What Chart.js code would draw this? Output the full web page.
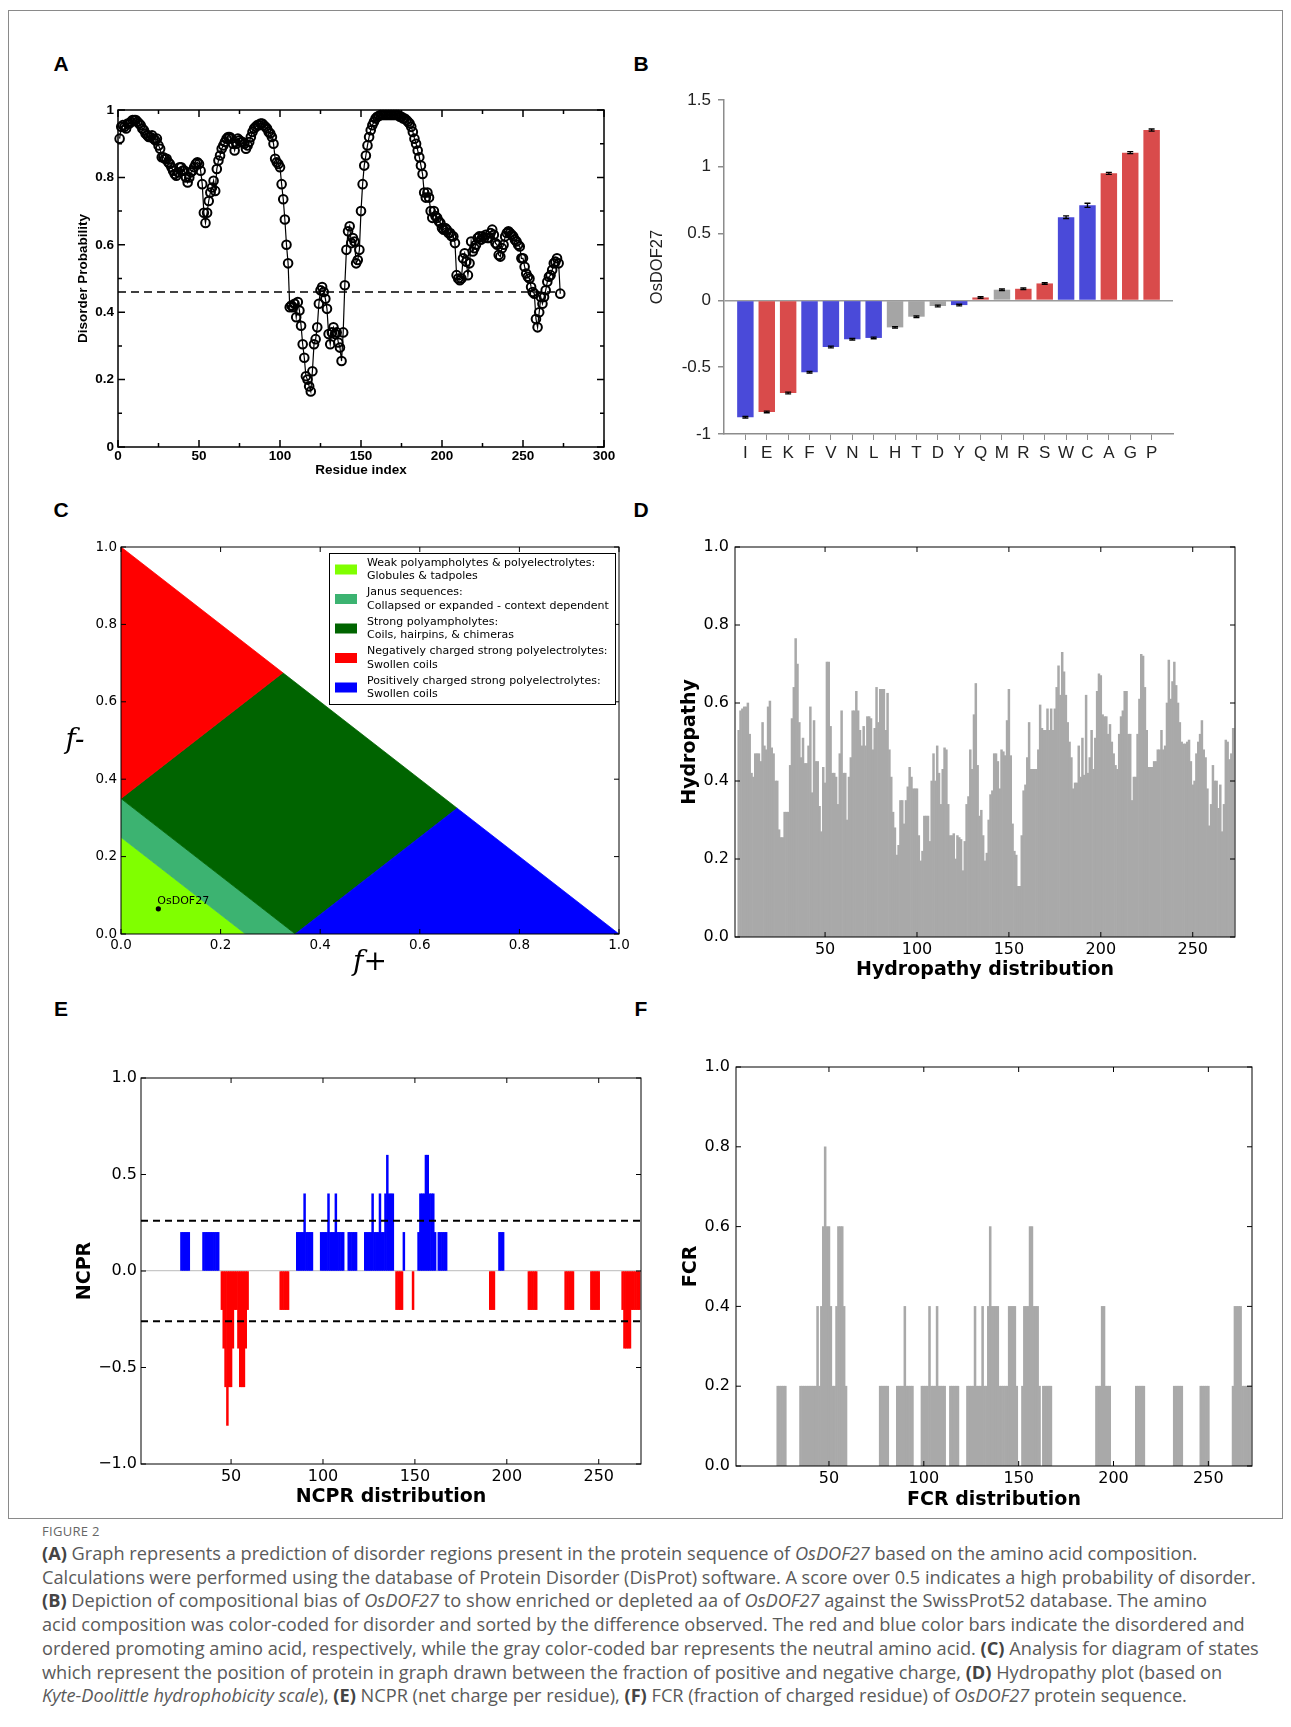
<!DOCTYPE html>
<html>
<head>
<meta charset="utf-8">
<title>OsDOF27 - Figure 2</title>
<script src="https://cdn.jsdelivr.net/npm/chart.js@4.4.1/dist/chart.umd.min.js"></script>
<style>
  html, body { margin: 0; padding: 0; background: #fff; }
  body { position: relative; width: 1291px; height: 1727px; overflow: hidden; }
  .box { position: absolute; left: 8px; top: 10px; width: 1273px; height: 1507px; border: 1px solid #8a8a8a; }
  canvas { position: absolute; }
  .tag { position: absolute; font: bold 21px "Liberation Sans", Arial, sans-serif; color: #000; line-height: 1; transform: translate(-50%, -50%); }
  .fig { position: absolute; left: 42px; top: 1522px; font: 13px/18px "Open Sans", sans-serif; color: #666; letter-spacing: 0.3px; }
  .cap { position: absolute; left: 42px; top: 1542px; font: 18.2px/23.7px "Open Sans", sans-serif; color: #5a5a5a; white-space: nowrap; }
  .cap b { color: #444; }
</style>
</head>
<body>
<div class="box"></div>

<div class="tag" style="left:61px;top:63px">A</div>
<div class="tag" style="left:641px;top:63px">B</div>
<div class="tag" style="left:61px;top:509px">C</div>
<div class="tag" style="left:641px;top:509px">D</div>
<div class="tag" style="left:61px;top:1008px">E</div>
<div class="tag" style="left:641px;top:1008px">F</div>

<canvas id="chartA" width="600" height="400" style="left:40px;top:90px"></canvas>
<canvas id="chartB" width="560" height="400" style="left:630px;top:80px"></canvas>
<canvas id="chartC" width="600" height="470" style="left:40px;top:520px"></canvas>
<canvas id="chartD" width="610" height="470" style="left:650px;top:520px"></canvas>
<canvas id="chartE" width="620" height="470" style="left:40px;top:1050px"></canvas>
<canvas id="chartF" width="620" height="480" style="left:650px;top:1040px"></canvas>

<div class="fig">FIGURE 2</div>
<div class="cap">
<div><b>(A)</b> Graph represents a prediction of disorder regions present in the protein sequence of <i>OsDOF27</i> based on the amino acid composition.</div>
<div>Calculations were performed using the database of Protein Disorder (DisProt) software. A score over 0.5 indicates a high probability of disorder.</div>
<div><b>(B)</b> Depiction of compositional bias of <i>OsDOF27</i> to show enriched or depleted aa of <i>OsDOF27</i> against the SwissProt52 database. The amino</div>
<div>acid composition was color-coded for disorder and sorted by the difference observed. The red and blue color bars indicate the disordered and</div>
<div>ordered promoting amino acid, respectively, while the gray color-coded bar represents the neutral amino acid. <b>(C)</b> Analysis for diagram of states</div>
<div>which represent the position of protein in graph drawn between the fraction of positive and negative charge, <b>(D)</b> Hydropathy plot (based on</div>
<div><i>Kyte-Doolittle hydrophobicity scale</i>), <b>(E)</b> NCPR (net charge per residue), <b>(F)</b> FCR (fraction of charged residue) of <i>OsDOF27</i> protein sequence.</div>
</div>

<script>
// ---------- data ----------
const residueCount = 273;

// A: disorder probability per residue (1..273)
const disorderProb = [
  0.915, 0.95, 0.955, 0.95, 0.945, 0.96, 0.96, 0.965, 0.97, 0.97,
  0.97, 0.965, 0.96, 0.955, 0.945, 0.94, 0.93, 0.925, 0.92, 0.92,
  0.925, 0.915, 0.91, 0.915, 0.895, 0.885, 0.86, 0.86, 0.855, 0.855,
  0.845, 0.84, 0.83, 0.82, 0.81, 0.805, 0.815, 0.83, 0.83, 0.82,
  0.82, 0.80, 0.785, 0.80, 0.815, 0.82, 0.83, 0.84, 0.845, 0.84,
  0.82, 0.78, 0.695, 0.665, 0.695, 0.73, 0.755, 0.77, 0.79, 0.76,
  0.825, 0.85, 0.865, 0.885, 0.895, 0.905, 0.915, 0.92, 0.92, 0.915,
  0.90, 0.88, 0.90, 0.915, 0.91, 0.905, 0.905, 0.90, 0.885, 0.895,
  0.905, 0.92, 0.935, 0.945, 0.95, 0.955, 0.955, 0.96, 0.96, 0.955,
  0.95, 0.945, 0.935, 0.93, 0.92, 0.90, 0.855, 0.845, 0.84, 0.83,
  0.78, 0.735, 0.675, 0.60, 0.545, 0.415, 0.42, 0.415, 0.425, 0.385,
  0.43, 0.405, 0.36, 0.305, 0.265, 0.21, 0.20, 0.18, 0.165, 0.225,
  0.305, 0.32, 0.355, 0.425, 0.465, 0.475, 0.46, 0.44, 0.41, 0.335,
  0.305, 0.34, 0.355, 0.335, 0.34, 0.31, 0.295, 0.255, 0.34, 0.48,
  0.585, 0.64, 0.655, 0.605, 0.62, 0.61, 0.545, 0.555, 0.585, 0.70,
  0.78, 0.835, 0.865, 0.895, 0.92, 0.94, 0.955, 0.965, 0.975, 0.98,
  0.982, 0.985, 0.985, 0.985, 0.985, 0.985, 0.985, 0.985, 0.985, 0.985,
  0.985, 0.985, 0.985, 0.98, 0.98, 0.975, 0.975, 0.97, 0.965, 0.96,
  0.95, 0.935, 0.915, 0.90, 0.88, 0.86, 0.835, 0.81, 0.755, 0.74,
  0.755, 0.74, 0.70, 0.68, 0.70, 0.685, 0.68, 0.67, 0.665, 0.65,
  0.645, 0.65, 0.645, 0.635, 0.635, 0.625, 0.625, 0.605, 0.51, 0.50,
  0.495, 0.50, 0.56, 0.575, 0.55, 0.51, 0.545, 0.61, 0.58, 0.59,
  0.60, 0.62, 0.625, 0.615, 0.625, 0.62, 0.63, 0.62, 0.62, 0.635,
  0.645, 0.63, 0.605, 0.60, 0.57, 0.565, 0.59, 0.60, 0.625, 0.635,
  0.64, 0.635, 0.63, 0.625, 0.615, 0.61, 0.60, 0.595, 0.56, 0.56,
  0.535, 0.515, 0.505, 0.50, 0.475, 0.46, 0.455, 0.38, 0.355, 0.40,
  0.445, 0.425, 0.445, 0.465, 0.49, 0.505, 0.51, 0.525, 0.545, 0.55,
  0.56, 0.545, 0.455
];
const disorderCut = 0.46;
const disorderXTicks = [0, 50, 100, 150, 200, 250, 300];
const disorderYTicks = [0, 0.2, 0.4, 0.6, 0.8, 1];

// B: compositional bias vs SwissProt52
const aminoAcids = ['I', 'E', 'K', 'F', 'V', 'N', 'L', 'H', 'T', 'D', 'Y', 'Q', 'M', 'R', 'S', 'W', 'C', 'A', 'G', 'P'];
const compBias = [-0.875, -0.835, -0.693, -0.538, -0.349, -0.291, -0.281, -0.202, -0.122, -0.042, -0.035, 0.022, 0.08, 0.087, 0.127, 0.623, 0.712, 0.951, 1.106, 1.275];
const compErr = [0.006, 0.006, 0.006, 0.006, 0.006, 0.006, 0.006, 0.006, 0.006, 0.006, 0.006, 0.006, 0.006, 0.006, 0.006, 0.01, 0.015, 0.008, 0.008, 0.008];
const compGroup = ['order', 'disorder', 'disorder', 'order', 'order', 'order', 'order', 'neutral', 'neutral', 'neutral', 'order', 'disorder', 'neutral', 'disorder', 'disorder', 'order', 'order', 'disorder', 'disorder', 'disorder'];
const biasTicks = [-1, -0.5, 0, 0.5, 1, 1.5];

// C: diagram of states (f+, f-)
const regionLabels = [
  ['Weak polyampholytes & polyelectrolytes:', 'Globules & tadpoles'],
  ['Janus sequences:', 'Collapsed or expanded - context dependent'],
  ['Strong polyampholytes:', 'Coils, hairpins, & chimeras'],
  ['Negatively charged strong polyelectrolytes:', 'Swollen coils'],
  ['Positively charged strong polyelectrolytes:', 'Swollen coils']
];
const regionPolys = [
  [[0, 0], [0, 0.25], [0.25, 0]],
  [[0, 0.25], [0, 0.35], [0.35, 0], [0.25, 0]],
  [[0, 0.35], [0.325, 0.675], [0.675, 0.325], [0.35, 0]],
  [[0, 0.35], [0, 1], [0.325, 0.675]],
  [[0.35, 0], [0.675, 0.325], [1, 0]]
];
const proteinName = 'OsDOF27';
const proteinFplus = 0.075;
const proteinFminus = 0.065;
const fracTicks = [0, 0.2, 0.4, 0.6, 0.8, 1];

// D: hydropathy, residues 3..272
const hydroStart = 3;
const hydroValues = [
  0.53, 0.58, 0.585, 0.59, 0.59, 0.60, 0.52, 0.42, 0.41, 0.47,
  0.47, 0.47, 0.45, 0.55, 0.49, 0.48, 0.59, 0.605, 0.485, 0.47,
  0.40, 0.40, 0.275, 0.255, 0.255, 0.32, 0.32, 0.32, 0.44, 0.56,
  0.64, 0.765, 0.70, 0.55, 0.46, 0.51, 0.445, 0.445, 0.49, 0.59,
  0.37, 0.555, 0.45, 0.45, 0.335, 0.27, 0.435, 0.395, 0.705, 0.705,
  0.54, 0.42, 0.42, 0.41, 0.34, 0.47, 0.58, 0.42, 0.42, 0.30,
  0.41, 0.46, 0.58, 0.58, 0.63, 0.58, 0.53, 0.49, 0.54, 0.49,
  0.565, 0.565, 0.56, 0.48, 0.535, 0.64, 0.55, 0.635, 0.635, 0.635,
  0.53, 0.625, 0.48, 0.41, 0.32, 0.28, 0.21, 0.235, 0.35, 0.35,
  0.29, 0.35, 0.385, 0.435, 0.41, 0.38, 0.38, 0.38, 0.26, 0.195,
  0.22, 0.31, 0.31, 0.31, 0.245, 0.40, 0.47, 0.40, 0.49, 0.42, 0.34,
  0.43, 0.485, 0.48, 0.34, 0.26, 0.26, 0.265, 0.20, 0.26, 0.255, 0.25,
  0.17, 0.245, 0.34, 0.36, 0.48, 0.43, 0.57, 0.65, 0.44, 0.31,
  0.325, 0.26, 0.195, 0.215, 0.30, 0.365, 0.375, 0.47, 0.47, 0.45, 0.38,
  0.48, 0.475, 0.465, 0.555, 0.635, 0.465, 0.29, 0.22, 0.21, 0.13,
  0.13, 0.26, 0.375, 0.39, 0.46, 0.55, 0.43, 0.43, 0.43, 0.43, 0.48,
  0.595, 0.535, 0.53, 0.53, 0.585, 0.53, 0.585, 0.53, 0.585, 0.64,
  0.695, 0.62, 0.73, 0.68, 0.62, 0.55, 0.50, 0.46, 0.38, 0.395, 0.395,
  0.49, 0.41, 0.51, 0.415, 0.62, 0.42, 0.46, 0.53, 0.43, 0.51,
  0.63, 0.675, 0.67, 0.57, 0.565, 0.565, 0.52, 0.545, 0.50, 0.47, 0.44,
  0.43, 0.52, 0.565, 0.58, 0.63, 0.63, 0.52, 0.52, 0.35, 0.41, 0.41,
  0.52, 0.61, 0.725, 0.72, 0.64, 0.53, 0.435, 0.435, 0.435, 0.45, 0.45,
  0.48, 0.48, 0.53, 0.48, 0.49, 0.60, 0.71, 0.61, 0.655, 0.705,
  0.645, 0.60, 0.55, 0.50, 0.495, 0.495, 0.50, 0.505, 0.45, 0.39, 0.40,
  0.47, 0.50, 0.52, 0.555, 0.48, 0.46, 0.38, 0.285, 0.34, 0.44,
  0.40, 0.40, 0.33, 0.39, 0.27, 0.34, 0.505, 0.50, 0.455, 0.47,
  0.535
];
const unitTicks = [0, 0.2, 0.4, 0.6, 0.8, 1];
const residueTicks = [50, 100, 150, 200, 250];

// E: net charge per residue (1..273)
const ncprValues = [
  0, 0, 0, 0, 0, 0, 0, 0, 0, 0,
  0, 0, 0, 0, 0, 0, 0, 0, 0, 0,
  0, 0, 0.2, 0.2, 0.2, 0.2, 0.2, 0, 0, 0,
  0, 0, 0, 0, 0.2, 0.2, 0.2, 0.2, 0.2, 0.2,
  0.2, 0.2, 0.2, 0, -0.2, -0.4, -0.6, -0.8, -0.6, -0.6,
  -0.4, -0.2, -0.2, -0.4, -0.6, -0.6, -0.6, -0.4, -0.2, 0,
  0, 0, 0, 0, 0, 0, 0, 0, 0, 0,
  0, 0, 0, 0, 0, 0, -0.2, -0.2, -0.2, -0.2,
  -0.2, 0, 0, 0, 0, 0.2, 0.2, 0.2, 0.2, 0.4,
  0.2, 0.2, 0.2, 0.2, 0, 0, 0, 0, 0.2, 0.2,
  0.2, 0.2, 0.4, 0.2, 0.2, 0.2, 0.4, 0.2, 0.2, 0.2,
  0.2, 0, 0, 0.2, 0.2, 0.2, 0.2, 0.2, 0, 0,
  0, 0, 0.2, 0.2, 0.2, 0.2, 0.4, 0.2, 0.2, 0.2,
  0.4, 0.2, 0.2, 0.4, 0.6, 0.4, 0.4, 0.4, 0, -0.2,
  -0.2, -0.2, -0.2, 0.2, 0, 0, 0, 0, -0.2, 0,
  0, 0.2, 0.4, 0.4, 0.4, 0.6, 0.6, 0.4, 0.4, 0.4,
  0.2, 0, 0.2, 0.2, 0.2, 0.2, 0.2, 0, 0, 0,
  0, 0, 0, 0, 0, 0, 0, 0, 0, 0,
  0, 0, 0, 0, 0, 0, 0, 0, 0, 0,
  -0.2, -0.2, -0.2, 0, 0, 0.2, 0.2, 0.2, 0, 0,
  0, 0, 0, 0, 0, 0, 0, 0, 0, 0,
  0, -0.2, -0.2, -0.2, -0.2, -0.2, 0, 0, 0, 0,
  0, 0, 0, 0, 0, 0, 0, 0, 0, 0,
  0, -0.2, -0.2, -0.2, -0.2, -0.2, 0, 0, 0, 0,
  0, 0, 0, 0, 0, -0.2, -0.2, -0.2, -0.2, -0.2,
  0, 0, 0, 0, 0, 0, 0, 0, 0, 0,
  0, 0, -0.2, -0.4, -0.4, -0.4, -0.4, -0.2, -0.2, -0.2,
  -0.2, -0.2, 0
];
const ncprCut = 0.26;
const ncprTicks = [-1, -0.5, 0, 0.5, 1];

// F: fraction of charged residues (1..273)
const fcrValues = [
  0, 0, 0, 0, 0, 0, 0, 0, 0, 0,
  0, 0, 0, 0, 0, 0, 0, 0, 0, 0,
  0, 0, 0.2, 0.2, 0.2, 0.2, 0.2, 0, 0, 0,
  0, 0, 0, 0, 0.2, 0.2, 0.2, 0.2, 0.2, 0.2,
  0.2, 0.2, 0.2, 0.4, 0.2, 0.4, 0.6, 0.8, 0.6, 0.6,
  0.4, 0.2, 0.2, 0.4, 0.6, 0.6, 0.6, 0.4, 0.2, 0,
  0, 0, 0, 0, 0, 0, 0, 0, 0, 0,
  0, 0, 0, 0, 0, 0, 0.2, 0.2, 0.2, 0.2,
  0.2, 0, 0, 0, 0, 0.2, 0.2, 0.2, 0.2, 0.4,
  0.2, 0.2, 0.2, 0.2, 0, 0, 0, 0, 0.2, 0.2,
  0.2, 0.2, 0.4, 0.2, 0.2, 0.2, 0.4, 0.2, 0.2, 0.2,
  0.2, 0, 0, 0.2, 0.2, 0.2, 0.2, 0.2, 0, 0,
  0, 0, 0.2, 0.2, 0.2, 0.2, 0.4, 0.2, 0.2, 0.2,
  0.4, 0.2, 0.2, 0.4, 0.6, 0.4, 0.4, 0.4, 0.4, 0.2,
  0.2, 0.2, 0.2, 0.2, 0.4, 0.4, 0.4, 0.4, 0.2, 0,
  0, 0.2, 0.4, 0.4, 0.4, 0.6, 0.6, 0.4, 0.4, 0.4,
  0.2, 0, 0.2, 0.2, 0.2, 0.2, 0.2, 0, 0, 0,
  0, 0, 0, 0, 0, 0, 0, 0, 0, 0,
  0, 0, 0, 0, 0, 0, 0, 0, 0, 0,
  0.2, 0.2, 0.2, 0.4, 0.4, 0.2, 0.2, 0.2, 0, 0,
  0, 0, 0, 0, 0, 0, 0, 0, 0, 0,
  0, 0.2, 0.2, 0.2, 0.2, 0.2, 0, 0, 0, 0,
  0, 0, 0, 0, 0, 0, 0, 0, 0, 0,
  0, 0.2, 0.2, 0.2, 0.2, 0.2, 0, 0, 0, 0,
  0, 0, 0, 0, 0, 0.2, 0.2, 0.2, 0.2, 0.2,
  0, 0, 0, 0, 0, 0, 0, 0, 0, 0,
  0, 0, 0.2, 0.4, 0.4, 0.4, 0.4, 0.2, 0.2, 0.2,
  0.2, 0.2, 0
];

// ---------- styling ----------
const BLUE_B = '#4a4ad9', RED_B = '#d94b4b', GRAY_B = '#a5a5a5';
const groupColor = { order: BLUE_B, disorder: RED_B, neutral: GRAY_B };
const regionColors = ['#80ff00', '#3cb371', '#006400', '#ff0000', '#0000ff'];
const BAR_GRAY = '#a9a9a9';

const fontA = { family: 'Liberation Sans', size: 13.5, weight: 'bold' };
const fontB = { family: 'Liberation Sans', size: 17 };
const fontMpl = { family: 'DejaVu Sans', size: 16 };
const fontMplTitle = { family: 'DejaVu Sans', size: 19, weight: 'bold' };
const noGrid = { display: false, drawTicks: false };
const noBorder = { display: false };
const fixedTicks = list => scale => { scale.ticks = list.map(v => ({ value: v })); };
const oneDec = v => (v < 0 ? '\u2212' : '') + Math.abs(v).toFixed(1);
const plain = v => String(v);

// inward ticks on all four sides plus a closed frame (xmgrace / matplotlib look)
const frameTicks = {
  id: 'frameTicks',
  afterDatasetsDraw(chart, args, o) {
    const { ctx, chartArea: a, scales } = chart;
    const marks = (scale, step, len, horizontal) => {
      if (!step) return;
      const first = Math.ceil(scale.min / step - 1e-9);
      const last = Math.floor(scale.max / step + 1e-9);
      for (let n = first; n <= last; n++) {
        const p = scale.getPixelForValue(n * step);
        if (horizontal) {
          ctx.moveTo(p, a.bottom); ctx.lineTo(p, a.bottom - len);
          ctx.moveTo(p, a.top); ctx.lineTo(p, a.top + len);
        } else {
          ctx.moveTo(a.left, p); ctx.lineTo(a.left + len, p);
          ctx.moveTo(a.right, p); ctx.lineTo(a.right - len, p);
        }
      }
    };
    ctx.save();
    ctx.strokeStyle = '#000';
    ctx.lineWidth = o.lineWidth || 1;
    ctx.beginPath();
    marks(scales.x, o.xStep, o.len, true);
    marks(scales.x, o.xMinor, o.minorLen, true);
    marks(scales.y, o.yStep, o.len, false);
    marks(scales.y, o.yMinor, o.minorLen, false);
    ctx.stroke();
    ctx.strokeRect(a.left, a.top, a.width, a.height);
    ctx.restore();
  }
};

// small error marks on top of the bars in panel B
const errorCaps = {
  id: 'errorCaps',
  afterDatasetsDraw(chart) {
    const { ctx, scales: { y } } = chart;
    const meta = chart.getDatasetMeta(0);
    ctx.save();
    ctx.strokeStyle = '#000';
    ctx.lineWidth = 1.3;
    meta.data.forEach((bar, i) => {
      const y1 = y.getPixelForValue(compBias[i] - compErr[i]);
      const y2 = y.getPixelForValue(compBias[i] + compErr[i]);
      ctx.beginPath();
      ctx.moveTo(bar.x, y1); ctx.lineTo(bar.x, y2);
      ctx.moveTo(bar.x - 3, y1); ctx.lineTo(bar.x + 3, y1);
      ctx.moveTo(bar.x - 3, y2); ctx.lineTo(bar.x + 3, y2);
      ctx.stroke();
    });
    ctx.restore();
  }
};

// fills the region datasets of panel C from the points Chart.js placed
const regionFill = {
  id: 'regionFill',
  beforeDatasetsDraw(chart) {
    const { ctx, chartArea: a } = chart;
    ctx.save();
    ctx.beginPath();
    ctx.rect(a.left, a.top, a.width, a.height);
    ctx.clip();
    chart.data.datasets.forEach((d, i) => {
      if (!d.legendText) return;
      const pts = chart.getDatasetMeta(i).data;
      ctx.beginPath();
      pts.forEach((p, k) => (k ? ctx.lineTo(p.x, p.y) : ctx.moveTo(p.x, p.y)));
      ctx.closePath();
      ctx.fillStyle = d.backgroundColor;
      ctx.strokeStyle = d.backgroundColor;
      ctx.lineWidth = 0.8;
      ctx.fill();
      ctx.stroke();
    });
    ctx.restore();
  },
  afterDatasetsDraw(chart) {
    const { ctx } = chart;
    chart.data.datasets.forEach((d, i) => {
      if (!d.pointText) return;
      const p = chart.getDatasetMeta(i).data[0];
      ctx.save();
      ctx.font = '11px "DejaVu Sans"';
      ctx.fillStyle = '#000';
      ctx.textAlign = 'left';
      ctx.textBaseline = 'bottom';
      ctx.fillText(d.pointText, p.x - 1, p.y - 2);
      ctx.restore();
    });
  }
};

// two-line legend box and upright y label of panel C
const regionLegend = {
  id: 'regionLegend',
  afterDraw(chart, args, o) {
    const { ctx, chartArea: a } = chart;
    const items = chart.data.datasets.filter(d => d.legendText);
    ctx.save();
    ctx.font = '11px "DejaVu Sans"';
    let w = 0;
    items.forEach(d => d.legendText.forEach(t => { w = Math.max(w, ctx.measureText(t).width); }));
    const lh = 13.5, gap = 2.5, padY = 3, textLeft = 38;
    const boxW = Math.round(w + textLeft + 6);
    const boxH = Math.round(items.length * 2 * lh + (items.length - 1) * gap + 2 * padY);
    const left = Math.round(a.right - 4 - boxW), top = Math.round(a.top + 6);
    ctx.fillStyle = '#fff';
    ctx.fillRect(left, top, boxW, boxH);
    ctx.strokeStyle = '#000';
    ctx.lineWidth = 1;
    ctx.strokeRect(left + 0.5, top + 0.5, boxW, boxH);
    let y = top + padY;
    items.forEach(d => {
      ctx.fillStyle = d.backgroundColor;
      ctx.fillRect(left + 6, y + lh - 5, 22, 10);
      ctx.fillStyle = '#000';
      ctx.textAlign = 'left';
      ctx.textBaseline = 'middle';
      d.legendText.forEach((t, k) => ctx.fillText(t, left + textLeft, y + lh / 2 + k * lh));
      y += 2 * lh + gap;
    });
    ctx.font = 'italic 28px "DejaVu Serif"';
    ctx.textAlign = 'center';
    ctx.fillText(o.yText, a.left - 46, (a.top + a.bottom) / 2);
    ctx.restore();
  }
};

Chart.defaults.font.family = 'DejaVu Sans';
Chart.defaults.color = '#000';

function base(pad, pluginOpts) {
  return {
    responsive: false,
    animation: false,
    events: [],
    layout: { padding: pad },
    plugins: Object.assign({ legend: { display: false }, tooltip: { enabled: false } }, pluginOpts)
  };
}

// ---------- A: disorder probability ----------
new Chart(document.getElementById('chartA'), {
  type: 'line',
  data: {
    datasets: [
      {
        data: disorderProb.map((v, i) => ({ x: i + 1, y: v })),
        borderColor: '#000', borderWidth: 1.2, tension: 0,
        pointRadius: 4.3, pointBorderWidth: 2, pointBorderColor: '#000',
        pointBackgroundColor: 'rgba(0,0,0,0)', clip: 8
      },
      {
        data: [{ x: 0, y: disorderCut }, { x: residueCount, y: disorderCut }],
        borderColor: '#000', borderWidth: 1.6, borderDash: [8, 5], pointRadius: 0
      }
    ]
  },
  options: Object.assign(base({ left: 31, top: 20, right: 36, bottom: 8 },
    { frameTicks: { lineWidth: 1.5, xStep: 50, xMinor: 25, yStep: 0.2, yMinor: 0.1, len: 7, minorLen: 4 } }), {
    scales: {
      x: {
        type: 'linear', min: 0, max: 300, offset: false,
        afterBuildTicks: fixedTicks(disorderXTicks),
        afterFit: s => { s.height = 35; },
        grid: noGrid, border: noBorder,
        ticks: { padding: 1, color: '#000', font: fontA, maxRotation: 0, callback: plain },
        title: { display: true, text: 'Residue index', color: '#000', font: fontA }
      },
      y: {
        min: 0, max: 1,
        afterBuildTicks: fixedTicks(disorderYTicks),
        afterFit: s => { s.width = 47; },
        grid: noGrid, border: noBorder,
        ticks: { padding: 4, color: '#000', font: fontA, callback: plain },
        title: { display: true, text: 'Disorder Probability', color: '#000', font: fontA }
      }
    }
  }),
  plugins: [frameTicks]
});

// ---------- B: compositional bias ----------
new Chart(document.getElementById('chartB'), {
  type: 'bar',
  data: {
    datasets: [{
      data: compBias.map((v, i) => ({ x: i, y: v })),
      backgroundColor: compGroup.map(g => groupColor[g]),
      barPercentage: 0.77, categoryPercentage: 1, borderWidth: 0
    }]
  },
  options: Object.assign(base({ left: 14, top: 20, right: 17, bottom: 6 }), {
    scales: {
      x: {
        type: 'linear', min: -1, max: aminoAcids.length, offset: false,
        afterBuildTicks: fixedTicks(aminoAcids.map((a, i) => i)),
        afterFit: s => { s.height = 40; },
        grid: { display: true, drawOnChartArea: false, drawTicks: true, tickLength: 6, tickColor: '#8c8c8c', offset: false },
        border: { display: true, color: '#8c8c8c', width: 1.5 },
        ticks: { padding: 3, color: '#222', font: fontB, autoSkip: false, maxRotation: 0, callback: v => aminoAcids[v] }
      },
      y: {
        min: -1, max: 1.5,
        afterBuildTicks: fixedTicks(biasTicks),
        afterFit: s => { s.width = 80; },
        grid: {
          display: true, drawTicks: true, tickLength: 6, tickColor: '#8c8c8c', lineWidth: 1.5,
          color: c => (c.tick && c.tick.value === 0 ? '#9a9a9a' : 'rgba(0,0,0,0)')
        },
        border: { display: true, color: '#8c8c8c', width: 1.5 },
        ticks: { padding: 7, color: '#222', font: fontB, callback: plain },
        title: { display: true, text: 'OsDOF27', color: '#222', font: { family: 'Liberation Sans', size: 16.5 } }
      }
    }
  }),
  plugins: [errorCaps]
});

// ---------- C: diagram of states ----------
const regionSets = regionPolys.map((poly, i) => ({
  data: poly.map(([x, y]) => ({ x, y })),
  backgroundColor: regionColors[i],
  legendText: regionLabels[i],
  showLine: false, pointRadius: 0, borderWidth: 0
}));
new Chart(document.getElementById('chartC'), {
  type: 'line',
  data: {
    datasets: [
      {
        data: [{ x: proteinFplus, y: proteinFminus }],
        pointText: proteinName, order: -1,
        showLine: false, pointRadius: 2.6, pointBackgroundColor: '#000', pointBorderWidth: 0
      }
    ].concat(regionSets)
  },
  options: Object.assign(base({ left: 14, top: 27, right: 21, bottom: 6 },
    { frameTicks: { xStep: 0.2, yStep: 0.2, len: 5 }, regionLegend: { yText: 'f-' } }), {
    scales: {
      x: {
        type: 'linear', min: 0, max: 1, offset: false,
        afterBuildTicks: fixedTicks(fracTicks),
        afterFit: s => { s.height = 50; },
        grid: noGrid, border: noBorder,
        ticks: { padding: 3, color: '#000', font: { family: 'DejaVu Sans', size: 13.5 }, callback: oneDec, maxRotation: 0 },
        title: { display: true, text: 'f+', color: '#000', font: { family: 'DejaVu Serif', size: 28, style: 'italic' } }
      },
      y: {
        min: 0, max: 1,
        afterBuildTicks: fixedTicks(fracTicks),
        afterFit: s => { s.width = 67; },
        grid: noGrid, border: noBorder,
        ticks: { padding: 4, color: '#000', font: { family: 'DejaVu Sans', size: 13.5 }, callback: oneDec }
      }
    }
  }),
  plugins: [regionFill, frameTicks, regionLegend]
});

// ---------- shared layout for D, E, F ----------
function residueAxes(yMin, yMax, yTicks, xTitle, yTitle, xH, yW) {
  return {
    x: {
      type: 'linear', min: 1, max: residueCount, offset: false,
      afterBuildTicks: fixedTicks(residueTicks),
      afterFit: s => { s.height = xH; },
      grid: noGrid, border: noBorder,
      ticks: { padding: 3, color: '#000', font: fontMpl, maxRotation: 0 },
      title: { display: true, text: xTitle, color: '#000', font: fontMplTitle }
    },
    y: {
      min: yMin, max: yMax,
      afterBuildTicks: fixedTicks(yTicks),
      afterFit: s => { s.width = yW; },
      grid: noGrid, border: noBorder,
      ticks: { padding: 6, color: '#000', font: fontMpl, callback: oneDec },
      title: { display: true, text: yTitle, color: '#000', font: fontMplTitle }
    }
  };
}

// ---------- D: hydropathy ----------
new Chart(document.getElementById('chartD'), {
  type: 'bar',
  data: {
    datasets: [{
      data: hydroValues.map((v, i) => ({ x: hydroStart + i, y: v })),
      backgroundColor: BAR_GRAY, barPercentage: 1, categoryPercentage: 1, borderWidth: 0
    }]
  },
  options: Object.assign(base({ left: 25, top: 27, right: 25, bottom: 5 },
    { frameTicks: { xStep: 50, yStep: 0.2, len: 5 } }), {
    scales: residueAxes(0, 1, unitTicks, 'Hydropathy distribution', 'Hydropathy', 48, 60)
  }),
  plugins: [frameTicks]
});

// ---------- E: NCPR ----------
const axesE = residueAxes(-1, 1, ncprTicks, 'NCPR distribution', 'NCPR', 48, 71);
axesE.y.ticks.padding = 4;
axesE.y.grid = { display: true, drawTicks: false, lineWidth: 1.2, color: c => (c.tick && c.tick.value === 0 ? '#c8c8c8' : 'rgba(0,0,0,0)') };
new Chart(document.getElementById('chartE'), {
  type: 'bar',
  data: {
    datasets: [
      {
        type: 'line', order: -1,
        data: [{ x: 1, y: ncprCut }, { x: residueCount, y: ncprCut }],
        borderColor: '#000', borderWidth: 2, borderDash: [7, 5], pointRadius: 0
      },
      {
        type: 'line', order: -1,
        data: [{ x: 1, y: -ncprCut }, { x: residueCount, y: -ncprCut }],
        borderColor: '#000', borderWidth: 2, borderDash: [7, 5], pointRadius: 0
      },
      {
        data: ncprValues.map((v, i) => ({ x: i + 1, y: v === 0 ? null : v })),
        backgroundColor: ncprValues.map(v => (v > 0 ? '#0000ff' : '#ff0000')),
        barPercentage: 1, categoryPercentage: 1, borderWidth: 0
      }
    ]
  },
  options: Object.assign(base({ left: 30, top: 28, right: 19, bottom: 8 },
    { frameTicks: { xStep: 50, yStep: 0.5, len: 5 } }), { scales: axesE }),
  plugins: [frameTicks]
});

// ---------- F: FCR ----------
new Chart(document.getElementById('chartF'), {
  type: 'bar',
  data: {
    datasets: [{
      data: fcrValues.map((v, i) => ({ x: i + 1, y: v === 0 ? null : v })),
      backgroundColor: BAR_GRAY, barPercentage: 1, categoryPercentage: 1, borderWidth: 0
    }]
  },
  options: Object.assign(base({ left: 26, top: 27, right: 18, bottom: 5 },
    { frameTicks: { xStep: 50, yStep: 0.2, len: 5 } }), {
    scales: residueAxes(0, 1, unitTicks, 'FCR distribution', 'FCR', 49, 60)
  }),
  plugins: [frameTicks]
});
</script>
</body>
</html>
